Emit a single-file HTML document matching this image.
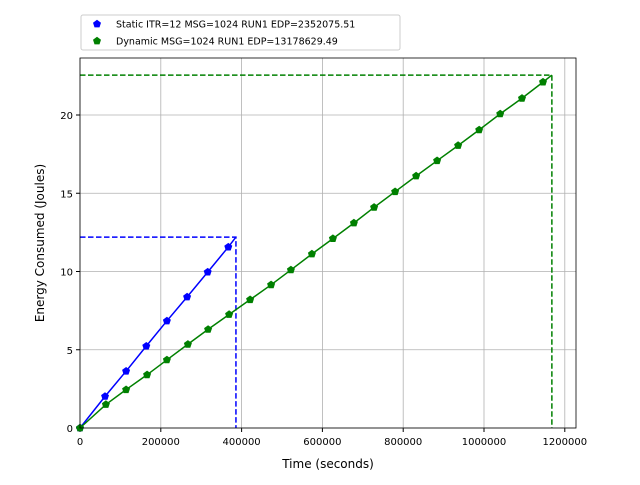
<!DOCTYPE html>
<html><head><meta charset="utf-8"><style>
body{margin:0;background:#fff;}
svg{font-family:"DejaVu Sans","Liberation Sans",sans-serif;}
</style></head><body>
<svg id="c" width="640" height="480"></svg>
<script>
const staticX=[0,62000,114000,164000,215000,265000,316000,367000];
const staticY=[0,2.02,3.63,5.23,6.84,8.37,9.96,11.56];
const staticEnd=[386000,12.2];
const dynX=[0,64000,114000,166000,215000,267000,317000,369000,421000,473000,522000,574000,626000,678000,728000,780000,832000,884000,936000,988000,1040000,1094000,1146000];
const dynY=[0,1.5,2.45,3.4,4.35,5.35,6.3,7.25,8.2,9.15,10.1,11.12,12.1,13.1,14.1,15.1,16.1,17.08,18.05,19.05,20.07,21.07,22.1];
const dynEnd=[1168000,22.55];
const xTicks=[0,200000,400000,600000,800000,1000000,1200000];
const yTicks=[0,5,10,15,20];
const L=80,R=576,T=58,B=428;
const sx=v=>L+v*0.000404, sy=v=>B-v*15.65;
const svg=document.getElementById('c');const NS='http://www.w3.org/2000/svg';
function mk(t,a,p){const e=document.createElementNS(NS,t);for(const k in a)e.setAttribute(k,a[k]);(p||svg).appendChild(e);return e;}
xTicks.forEach(v=>{const x=sx(v);
const g=mk('line',{x1:x,x2:x,y1:T,y2:B,stroke:'#b0b0b0','stroke-width':0.8});

mk('line',{x1:x,x2:x,y1:B,y2:B+4,stroke:'#000'});
const t=mk('text',{x:x,y:B+17,'text-anchor':'middle','font-size':10});t.textContent=v;
});
yTicks.forEach(v=>{const y=sy(v);
const g=mk('line',{x1:L,x2:R,y1:y,y2:y,stroke:'#b0b0b0','stroke-width':0.8});

mk('line',{x1:L-4,x2:L,y1:y,y2:y,stroke:'#000'});
const t=mk('text',{x:L-7,y:y+4,'text-anchor':'end','font-size':10});t.textContent=v;
});
function pent(x,y,c){const r=4.2;let p=[];for(let i=0;i<5;i++){const a=-Math.PI/2+i*2*Math.PI/5;p.push((x+r*Math.cos(a)).toFixed(1)+','+(y+r*Math.sin(a)).toFixed(1));}
const e=mk('polygon',{points:p.join(' '),fill:c});return e;}
function series(xs,ys,end,c,name){
const d=mk('polyline',{points:`${L},${sy(end[1])} ${sx(end[0])},${sy(end[1])} ${sx(end[0])},${B}`,fill:'none',stroke:c,'stroke-width':1.5,'stroke-dasharray':'5.5,2.5'});

const l=mk('polyline',{points:xs.map((x,i)=>sx(x)+','+sy(ys[i])).join(' ')+' '+sx(end[0])+','+sy(end[1]),fill:'none',stroke:c,'stroke-width':1.5});

xs.forEach((x,i)=>{const m=pent(sx(x),sy(ys[i]),c);});}
series(staticX,staticY,staticEnd,'#0000ff','static');
series(dynX,dynY,dynEnd,'#008000','dynamic');
const f=mk('rect',{x:L,y:T,width:R-L,height:B-T,fill:'none',stroke:'#000','stroke-width':0.8});

let t=mk('text',{x:(L+R)/2,y:468,'text-anchor':'middle','font-size':12});t.textContent='Time (seconds)';

t=mk('text',{x:0,y:0,'text-anchor':'middle','font-size':12,transform:`translate(44,${(T+B)/2}) rotate(-90)`});t.textContent='Energy Consumed (Joules)';

const lg=mk('rect',{x:81,y:15,width:319,height:35,rx:2,fill:'#fff',stroke:'#ccc'});

[['Static ITR=12 MSG=1024 RUN1 EDP=2352075.51','#0000ff',24],['Dynamic MSG=1024 RUN1 EDP=13178629.49','#008000',41]].forEach(([s,c,y])=>{
const m=pent(97,y,c);
const tt=mk('text',{x:116,y:y+3.5,'font-size':9.5});tt.textContent=s;
});
</script>
</body></html>
